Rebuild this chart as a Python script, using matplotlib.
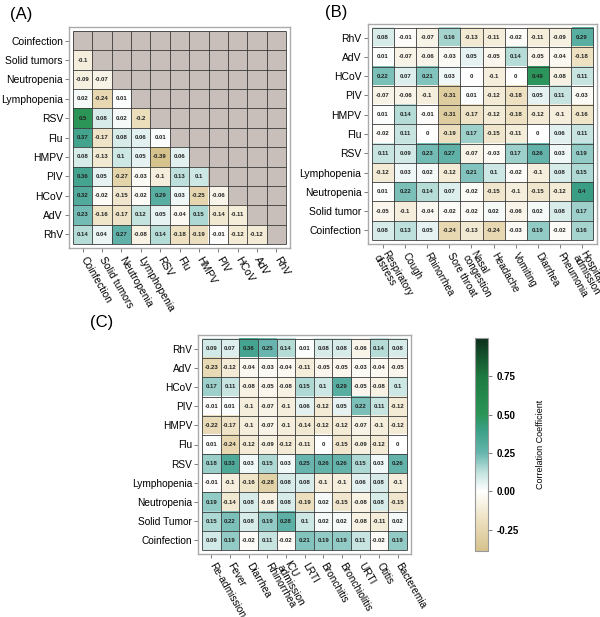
import numpy as np
import matplotlib
matplotlib.use("Agg")
import matplotlib.pyplot as plt
from matplotlib.colors import LinearSegmentedColormap, Normalize
from matplotlib.transforms import ScaledTranslation

plt.rcParams['font.family'] = ['Liberation Sans', 'DejaVu Sans']

# ---- panel A: virus / condition correlations (lower triangle) ----
a_labels = ["Coinfection", "Solid tumors", "Neutropenia", "Lymphopenia", "RSV", "Flu",
            "HMPV", "PIV", "HCoV", "AdV", "RhV"]
a_lower = [
    [],
    [-0.1],
    [-0.09, -0.07],
    [0.02, -0.24, 0.01],
    [0.5, 0.08, 0.02, -0.2],
    [0.37, -0.17, 0.08, 0.06, 0.01],
    [0.08, -0.13, 0.1, 0.05, -0.39, 0.06],
    [0.36, 0.05, -0.27, -0.03, -0.1, 0.13, 0.1],
    [0.32, -0.02, -0.15, -0.02, 0.29, 0.03, -0.25, -0.06],
    [0.23, -0.16, -0.17, 0.12, 0.05, -0.04, 0.15, -0.14, -0.11],
    [0.14, 0.04, 0.27, -0.08, 0.14, -0.18, -0.19, -0.01, -0.12, -0.12],
]

# ---- panel B: symptoms ----
b_rows = ["RhV", "AdV", "HCoV", "PIV", "HMPV", "Flu", "RSV", "Lymphopenia",
          "Neutropenia", "Solid tumor", "Coinfection"]
b_cols = ["Respiratory\ndistress", "Cough", "Rhinorrhea", "Sore throat", "Nasal\ncongestion",
          "Headache", "Vomiting", "Diarrhea", "Pneumonia", "Hospital\nadmission"]
b_vals = [
    [0.08, -0.01, -0.07, 0.16, -0.13, -0.11, -0.02, -0.11, -0.09, 0.29],
    [0.01, -0.07, -0.06, -0.03, 0.05, -0.05, 0.14, -0.05, -0.04, -0.18],
    [0.22, 0.07, 0.21, 0.03, 0, -0.1, 0, 0.49, -0.08, 0.11],
    [-0.07, -0.06, -0.1, -0.31, 0.01, -0.12, -0.18, 0.05, 0.11, -0.03],
    [0.01, 0.14, -0.01, -0.31, -0.17, -0.12, -0.18, -0.12, -0.1, -0.16],
    [-0.02, 0.11, 0, -0.19, 0.17, -0.15, -0.11, 0, 0.06, 0.11],
    [0.11, 0.09, 0.23, 0.27, -0.07, -0.03, 0.17, 0.26, 0.03, 0.19],
    [-0.12, 0.03, 0.02, -0.12, 0.21, 0.1, -0.02, -0.1, 0.08, 0.15],
    [0.01, 0.22, 0.14, 0.07, -0.02, -0.15, -0.1, -0.15, -0.12, 0.4],
    [-0.05, -0.1, -0.04, -0.02, -0.02, 0.02, -0.06, 0.02, 0.08, 0.17],
    [0.08, 0.13, 0.05, -0.24, -0.13, -0.24, -0.03, 0.19, -0.02, 0.16],
]

# ---- panel C: outcomes ----
c_rows = ["RhV", "AdV", "HCoV", "PIV", "HMPV", "Flu", "RSV", "Lymphopenia",
          "Neutropenia", "Solid Tumor", "Coinfection"]
c_cols = ["Re-admission", "Fever", "Diarrhea", "Rhinorrhea", "ICU\nadmission", "LRTI",
          "Bronchitis", "Bronchiolitis", "URTI", "Otitis", "Bacteremia"]
c_vals = [
    [0.09, 0.07, 0.36, 0.25, 0.14, 0.01, 0.08, 0.08, -0.06, 0.14, 0.08],
    [-0.23, -0.12, -0.04, -0.03, -0.04, -0.11, -0.05, -0.05, -0.03, -0.04, -0.05],
    [0.17, 0.11, -0.08, -0.05, -0.08, 0.15, 0.1, 0.29, -0.05, -0.08, 0.1],
    [-0.01, 0.01, -0.1, -0.07, -0.1, 0.06, -0.12, 0.05, 0.22, 0.11, -0.12],
    [-0.22, -0.17, -0.1, -0.07, -0.1, -0.14, -0.12, -0.12, -0.07, -0.1, -0.12],
    [0.01, -0.24, -0.12, -0.09, -0.12, -0.11, 0, -0.15, -0.09, -0.12, 0],
    [0.18, 0.33, 0.03, 0.15, 0.03, 0.25, 0.26, 0.26, 0.15, 0.03, 0.26],
    [-0.01, -0.1, -0.16, -0.28, 0.08, 0.08, -0.1, -0.1, 0.06, 0.08, -0.1],
    [0.19, -0.14, 0.08, -0.08, 0.08, -0.19, 0.02, -0.15, -0.08, 0.08, -0.15],
    [0.15, 0.22, 0.08, 0.19, 0.28, 0.1, 0.02, 0.02, -0.08, -0.11, 0.02],
    [0.09, 0.19, -0.02, 0.11, -0.02, 0.21, 0.19, 0.19, 0.11, -0.02, 0.19],
]

VMIN, VMAX = -0.39, 1.0
nodes = [(-0.39, '#d6c28c'), (-0.2, '#ecdfbd'), (0.0, '#ffffff'), (0.12, '#c3e3df'),
         (0.25, '#66b5ae'), (0.4, '#3a9f85'), (0.5, '#2b9558'), (0.75, '#1d7a40'),
         (1.0, '#0d2f1c')]
cmap = LinearSegmentedColormap.from_list(
    'corr', [((v - VMIN) / (VMAX - VMIN), c) for v, c in nodes])
norm = Normalize(VMIN, VMAX)
GRAY = '#c9bfba'
PAD = 0.2


def heat(fig, cell_box, data, rows, cols, fs=7.5, xfs=None, num_fs=4.3):
    data = np.array(data, dtype=float)
    nr, nc = data.shape
    x0, y0, x1, y1 = cell_box  # pixel coords of cell area
    W, H = 600.0, 617.0
    cw = (x1 - x0) / nc
    ch = (y1 - y0) / nr
    left = (x0 - PAD * cw) / W
    bottom = 1 - (y1 + PAD * ch) / H
    ax = fig.add_axes([left, bottom, (x1 - x0 + 2 * PAD * cw) / W, (y1 - y0 + 2 * PAD * ch) / H])
    rgba = cmap(norm(np.nan_to_num(data)))
    rgba[np.isnan(data)] = matplotlib.colors.to_rgba(GRAY)
    ax.imshow(rgba, aspect='auto', extent=(0, nc, nr, 0), interpolation='nearest')
    ax.vlines(np.arange(nc + 1), 0, nr, color='#3a3a3a', lw=0.6)
    ax.hlines(np.arange(nr + 1), 0, nc, color='#3a3a3a', lw=0.6)
    for i in range(nr):
        for j in range(nc):
            if not np.isnan(data[i, j]):
                ax.text(j + 0.5, i + 0.5, f"{data[i, j]:g}", ha='center', va='center',
                        fontsize=num_fs, fontweight='bold', color='#222222')
    ax.set_xlim(-PAD, nc + PAD)
    ax.set_ylim(nr + PAD, -PAD)
    ax.set_xticks(np.arange(nc) + 0.5)
    ax.set_yticks(np.arange(nr) + 0.5)
    ax.set_xticklabels(cols, rotation=-60, ha='left', va='center', rotation_mode='anchor',
                       fontsize=xfs or fs, linespacing=0.85)
    ax.set_yticklabels(rows, fontsize=fs)
    ax.tick_params(length=3, width=0.6, color='#666666', pad=1.5)
    ax.tick_params(axis='x', pad=4)
    # two-line labels: nudge a little left so the first line starts near the tick
    shift = ScaledTranslation(-2 / 72, 0, fig.dpi_scale_trans)
    for lbl in ax.get_xticklabels():
        if '\n' in lbl.get_text():
            lbl.set_transform(lbl.get_transform() + shift)
    for s in ax.spines.values():
        s.set_color('#aaaaaa')
        s.set_linewidth(1)
    return ax


fig = plt.figure(figsize=(6, 6.17), dpi=100)

# panel A full matrix with upper triangle blank
n = len(a_labels)
a_mat = np.full((n, n), np.nan)
for i, row in enumerate(a_lower):
    for j, v in enumerate(row):
        a_mat[i, j] = v

heat(fig, (73, 31, 286, 244), a_mat, a_labels, a_labels, fs=7.5)
heat(fig, (372, 28, 593, 240), b_vals, b_rows, b_cols, fs=7.5, xfs=7.1)
heat(fig, (202, 339, 407, 550), c_vals, c_rows, c_cols, fs=7.3)

# colorbar
cax = fig.add_axes([475 / 600, 1 - 551 / 617, 13 / 600, 213 / 617])
cb = fig.colorbar(plt.cm.ScalarMappable(norm=norm, cmap=cmap), cax=cax,
                  ticks=[-0.25, 0, 0.25, 0.5, 0.75])
cb.ax.set_yticklabels(['-0.25', '0.00', '0.25', '0.50', '0.75'], fontsize=7, fontweight='bold')
cb.ax.tick_params(length=3, width=0.6, color='#666666')
cb.outline.set_edgecolor('#999999')
cb.outline.set_linewidth(0.8)
cb.set_label('Correlation Coefficient', fontsize=6.5, labelpad=12)

fig.text(10 / 600, 1 - 14 / 617, '(A)', fontsize=12, va='center')
fig.text(325 / 600, 1 - 12 / 617, '(B)', fontsize=12, va='center')
fig.text(90 / 600, 1 - 322 / 617, '(C)', fontsize=12, va='center')

fig.savefig('out.png', dpi=100)
